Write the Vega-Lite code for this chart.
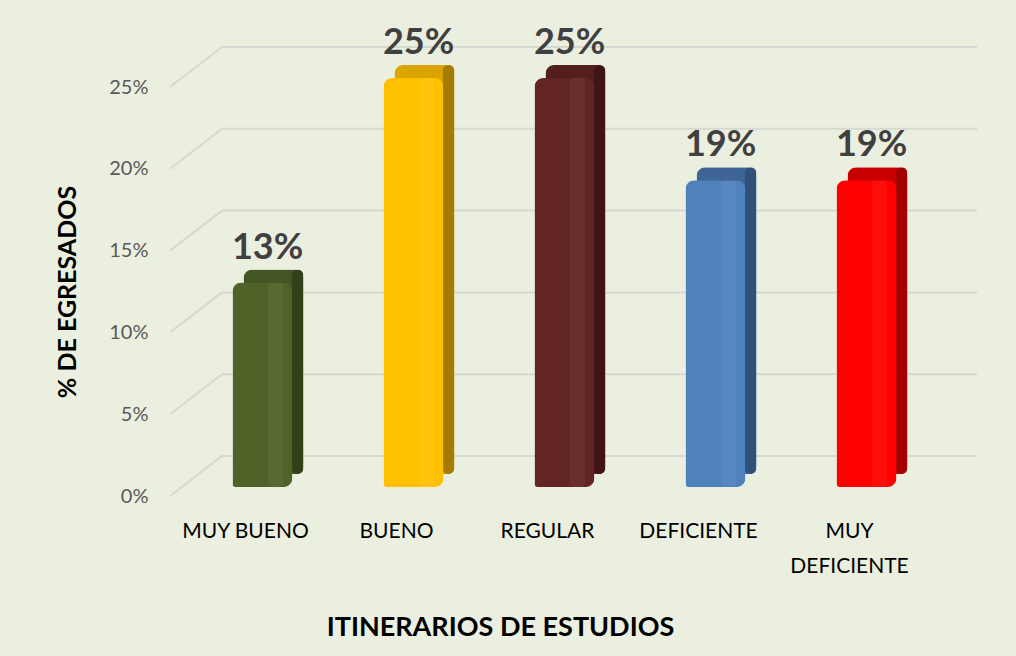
{
  "$schema": "https://vega.github.io/schema/vega-lite/v6.json",
  "autosize": "none",
  "width": 755,
  "height": 409,
  "padding": {"left": 170, "top": 87, "right": 91, "bottom": 160},
  "background": "#EBEFDF",
  "config": {"view": {"stroke": null}, "font": "Lato"},
  "datasets": {
    "barras": [
      {"itinerario": "MUY BUENO", "pct": 0.125, "etiqueta": "13%"},
      {"itinerario": "BUENO", "pct": 0.25, "etiqueta": "25%"},
      {"itinerario": "REGULAR", "pct": 0.25, "etiqueta": "25%"},
      {"itinerario": "DEFICIENTE", "pct": 0.1875, "etiqueta": "19%"},
      {"itinerario": "MUY DEFICIENTE", "pct": 0.1875, "etiqueta": "19%"}
    ],
    "grid": [
      {"pct": 0}, {"pct": 0.05}, {"pct": 0.1}, {"pct": 0.15}, {"pct": 0.2}, {"pct": 0.25}
    ]
  },
  "resolve": {"scale": {"fill": "independent", "y": "independent"}},
  "layer": [
    {
      "data": {"name": "grid"},
      "mark": {"type": "rule", "color": "#D6D8D2", "strokeWidth": 2, "xOffset": 52, "x2Offset": 52, "yOffset": -40},
      "encoding": {
        "x": {"value": 0},
        "x2": {"value": "width"},
        "y": {"field": "pct", "type": "quantitative", "scale": {"domain": [0, 0.25], "nice": false}, "title": "% DE EGRESADOS",
          "axis": {"format": ".0%", "values": [0, 0.05, 0.1, 0.15, 0.2, 0.25], "grid": false, "ticks": false, "domain": false,
            "labelFontSize": 20, "labelColor": "#595959", "labelPadding": 22,
            "titleFontSize": 25, "titleFontWeight": "bold", "titleColor": "#000000", "titlePadding": 28}}
      }
    },
    {
      "data": {"name": "grid"},
      "mark": {"type": "rule", "color": "#D6D8D2", "strokeWidth": 2, "x2Offset": 52, "y2Offset": -40},
      "encoding": {
        "x": {"value": 0},
        "x2": {"value": 0},
        "y": {"field": "pct", "type": "quantitative", "scale": {"domain": [0, 0.25], "nice": false}, "axis": null},
        "y2": {"field": "pct"}
      }
    },
    {
      "data": {"name": "barras"},
      "mark": {"type": "bar", "width": 60, "xOffset": 28, "cornerRadius": 9},
      "encoding": {
        "x": {"field": "itinerario", "type": "nominal", "sort": null,
          "scale": {"paddingInner": 0, "paddingOuter": 0},
          "title": "ITINERARIOS DE ESTUDIOS",
          "axis": {"labelAngle": 0, "ticks": false, "domain": false, "labelFontSize": 21, "labelColor": "#000000",
            "labelPadding": 24, "labelLineHeight": 35,
            "labelExpr": "datum.label == 'MUY DEFICIENTE' ? ['MUY', 'DEFICIENTE'] : datum.label",
            "titleFontSize": 27, "titleFontWeight": "bold", "titleColor": "#000000", "titlePadding": 38, "titleX": 330}},
        "y": {"field": "pct", "type": "quantitative", "scale": {"domain": [-0.01345, 0.23655], "nice": false, "zero": false}, "axis": null},
        "fill": {"field": "itinerario", "type": "nominal", "sort": null, "legend": null,
          "scale": {"domain": ["MUY BUENO", "BUENO", "REGULAR", "DEFICIENTE", "MUY DEFICIENTE"],
            "range": ["#445624", "#DBA500", "#531E1C", "#3E6596", "#C80000"]}}
      }
    },
    {
      "data": {"name": "barras"},
      "mark": {"type": "bar", "width": 12, "xOffset": 52, "cornerRadius": 6},
      "encoding": {
        "x": {"field": "itinerario", "type": "nominal", "sort": null, "title": "ITINERARIOS DE ESTUDIOS"},
        "y": {"field": "pct", "type": "quantitative", "scale": {"domain": [-0.01345, 0.23655], "nice": false, "zero": false}, "axis": null},
        "fill": {"field": "itinerario", "type": "nominal", "sort": null, "legend": null,
          "scale": {"domain": ["MUY BUENO", "BUENO", "REGULAR", "DEFICIENTE", "MUY DEFICIENTE"],
            "range": ["#33411A", "#A67C00", "#3E1514", "#30507A", "#A50000"]}}
      }
    },
    {
      "data": {"name": "barras"},
      "mark": {"type": "bar", "width": 60, "xOffset": 17, "cornerRadiusTopLeft": 9, "cornerRadiusTopRight": 9, "cornerRadiusBottomRight": 9, "cornerRadiusBottomLeft": 3},
      "encoding": {
        "x": {"field": "itinerario", "type": "nominal", "sort": null, "title": "ITINERARIOS DE ESTUDIOS"},
        "y": {"field": "pct", "type": "quantitative", "scale": {"domain": [-0.0055, 0.2445], "nice": false, "zero": false}, "axis": null},
        "fill": {"field": "itinerario", "type": "nominal", "sort": null, "legend": null,
          "scale": {"domain": ["MUY BUENO", "BUENO", "REGULAR", "DEFICIENTE", "MUY DEFICIENTE"],
            "range": ["#4F6228", "#FFC000", "#632523", "#4F81BD", "#FF0000"]}}
      }
    },
    {
      "data": {"name": "barras"},
      "mark": {"type": "bar", "width": 16, "xOffset": 30, "cornerRadius": 5, "fill": "#FFFFFF", "fillOpacity": 0.05},
      "encoding": {
        "x": {"field": "itinerario", "type": "nominal", "sort": null, "title": "ITINERARIOS DE ESTUDIOS"},
        "y": {"field": "pct", "type": "quantitative", "scale": {"domain": [-0.0055, 0.2445], "nice": false, "zero": false}, "axis": null}
      }
    },
    {
      "data": {"name": "barras"},
      "mark": {"type": "text", "fontSize": 36, "fontWeight": "bold", "color": "#404040", "baseline": "alphabetic", "xOffset": 22, "yOffset": -33},
      "encoding": {
        "x": {"field": "itinerario", "type": "nominal", "sort": null, "title": "ITINERARIOS DE ESTUDIOS"},
        "y": {"field": "pct", "type": "quantitative", "scale": {"domain": [0, 0.25], "nice": false}, "axis": null},
        "text": {"field": "etiqueta", "type": "nominal"}
      }
    }
  ]
}
